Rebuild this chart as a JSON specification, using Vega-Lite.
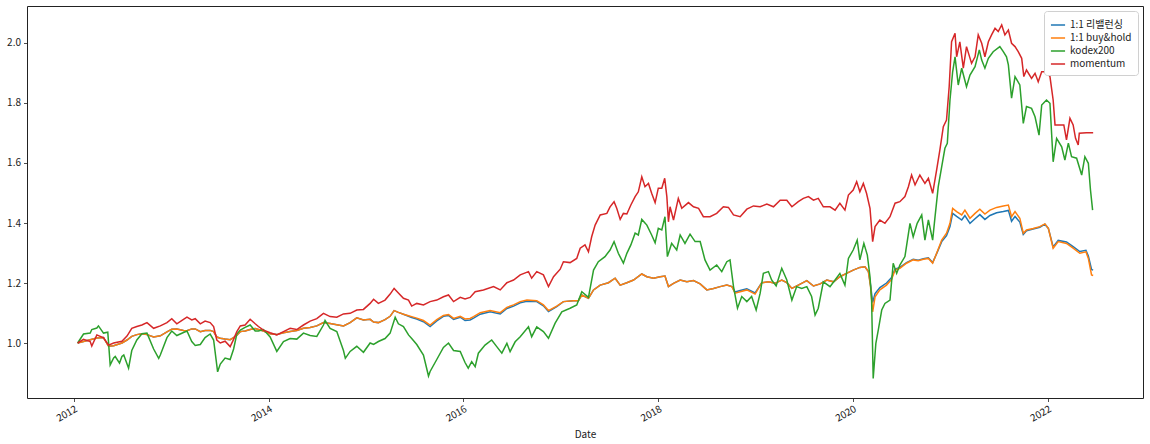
{
"$schema": "https://vega.github.io/schema/vega-lite/v6.json",
"width": 1116, "height": 392,
"autosize": "none",
"padding": {"left": 27, "top": 6, "right": 7, "bottom": 46},
"background": "white",
"config": {
  "font": "Noto Sans CJK KR",
  "view": {"stroke": "#222", "strokeWidth": 1},
  "axis": {"domain": false, "grid": false, "tickColor": "#222", "tickSize": 3.5, "tickWidth": 0.8, "labelColor": "#222", "labelFontSize": 10, "labelFont": "Noto Sans CJK KR", "titleFont": "Noto Sans CJK KR", "titleFontSize": 10, "titleFontWeight": "normal", "titleColor": "#222"}
},
"datasets": {
"r": [
{"d":"2012-01-16","v":1.000},{"d":"2012-02-07","v":1.005},{"d":"2012-03-03","v":1.011},{"d":"2012-03-28","v":1.017},{"d":"2012-04-22","v":1.018},{"d":"2012-05-11","v":0.989},{"d":"2012-05-30","v":0.991},{"d":"2012-06-30","v":1.000},{"d":"2012-07-19","v":1.010},{"d":"2012-08-06","v":1.022},{"d":"2012-08-25","v":1.028},{"d":"2012-09-13","v":1.031},{"d":"2012-10-02","v":1.028},{"d":"2012-10-27","v":1.020},{"d":"2012-11-21","v":1.024},{"d":"2012-12-16","v":1.037},{"d":"2013-01-03","v":1.046},{"d":"2013-01-22","v":1.047},{"d":"2013-02-16","v":1.042},{"d":"2013-03-01","v":1.041},{"d":"2013-03-19","v":1.047},{"d":"2013-04-01","v":1.047},{"d":"2013-04-20","v":1.038},{"d":"2013-05-08","v":1.042},{"d":"2013-05-27","v":1.042},{"d":"2013-06-09","v":1.038},{"d":"2013-06-21","v":1.020},{"d":"2013-07-04","v":1.016},{"d":"2013-07-22","v":1.013},{"d":"2013-08-10","v":1.011},{"d":"2013-08-23","v":1.018},{"d":"2013-09-04","v":1.026},{"d":"2013-09-17","v":1.038},{"d":"2013-10-05","v":1.040},{"d":"2013-10-24","v":1.045},{"d":"2013-11-12","v":1.048},{"d":"2013-11-24","v":1.045},{"d":"2013-12-13","v":1.040},{"d":"2014-01-07","v":1.031},{"d":"2014-02-01","v":1.028},{"d":"2014-02-26","v":1.034},{"d":"2014-03-23","v":1.038},{"d":"2014-04-17","v":1.042},{"d":"2014-05-12","v":1.049},{"d":"2014-06-06","v":1.052},{"d":"2014-07-01","v":1.057},{"d":"2014-07-26","v":1.068},{"d":"2014-08-20","v":1.065},{"d":"2014-09-14","v":1.061},{"d":"2014-10-09","v":1.057},{"d":"2014-11-03","v":1.068},{"d":"2014-11-28","v":1.084},{"d":"2014-12-23","v":1.077},{"d":"2015-01-17","v":1.079},{"d":"2015-01-30","v":1.070},{"d":"2015-02-17","v":1.068},{"d":"2015-03-14","v":1.078},{"d":"2015-04-02","v":1.089},{"d":"2015-04-17","v":1.108},{"d":"2015-05-03","v":1.102},{"d":"2015-05-22","v":1.096},{"d":"2015-06-10","v":1.089},{"d":"2015-06-22","v":1.085},{"d":"2015-07-11","v":1.080},{"d":"2015-08-05","v":1.071},{"d":"2015-08-30","v":1.055},{"d":"2015-09-24","v":1.074},{"d":"2015-10-19","v":1.089},{"d":"2015-11-07","v":1.092},{"d":"2015-11-26","v":1.079},{"d":"2015-12-21","v":1.086},{"d":"2016-01-08","v":1.075},{"d":"2016-01-27","v":1.077},
{"d":"2016-02-09","v":1.083},{"d":"2016-03-05","v":1.096},{"d":"2016-04-11","v":1.104},{"d":"2016-05-19","v":1.097},{"d":"2016-06-13","v":1.115},{"d":"2016-07-08","v":1.123},{"d":"2016-08-02","v":1.134},{"d":"2016-08-27","v":1.139},{"d":"2016-10-03","v":1.138},{"d":"2016-10-28","v":1.124},{"d":"2016-11-16","v":1.105},{"d":"2016-12-17","v":1.121},{"d":"2017-01-11","v":1.138},{"d":"2017-02-18","v":1.141},{"d":"2017-03-08","v":1.141},{"d":"2017-03-21","v":1.160},{"d":"2017-04-15","v":1.149},{"d":"2017-05-04","v":1.177},{"d":"2017-05-29","v":1.193},{"d":"2017-06-29","v":1.201},{"d":"2017-07-24","v":1.216},{"d":"2017-08-12","v":1.193},{"d":"2017-09-06","v":1.201},{"d":"2017-10-01","v":1.210},{"d":"2017-11-01","v":1.230},{"d":"2017-11-20","v":1.221},{"d":"2017-12-15","v":1.216},{"d":"2018-01-09","v":1.221},{"d":"2018-01-27","v":1.223},{"d":"2018-02-09","v":1.188},{"d":"2018-02-28","v":1.199},{"d":"2018-03-25","v":1.210},{"d":"2018-04-19","v":1.204},{"d":"2018-05-14","v":1.208},{"d":"2018-06-08","v":1.197},{"d":"2018-07-03","v":1.177},{"d":"2018-07-28","v":1.182},{"d":"2018-08-22","v":1.188},{"d":"2018-09-16","v":1.193},{"d":"2018-10-05","v":1.188},{"d":"2018-10-17","v":1.170},{"d":"2018-11-05","v":1.175},{"d":"2018-11-30","v":1.181},{"d":"2018-12-31","v":1.167},{"d":"2019-01-25","v":1.201},{"d":"2019-02-19","v":1.204},{"d":"2019-03-16","v":1.199},{"d":"2019-04-10","v":1.210},{"d":"2019-04-29","v":1.201},{"d":"2019-05-18","v":1.182},{"d":"2019-06-11","v":1.193},{"d":"2019-07-13","v":1.208},{"d":"2019-08-07","v":1.190},{"d":"2019-09-01","v":1.197},{"d":"2019-09-26","v":1.210},{"d":"2019-10-21","v":1.204},
{"d":"2019-11-14","v":1.221},{"d":"2019-12-09","v":1.232},{"d":"2020-01-03","v":1.243},{"d":"2020-01-28","v":1.252},{"d":"2020-02-16","v":1.254},{"d":"2020-02-29","v":1.238},{"d":"2020-03-08","v":1.195},{"d":"2020-03-16","v":1.135},{"d":"2020-03-25","v":1.165},{"d":"2020-04-12","v":1.185},{"d":"2020-05-07","v":1.200},{"d":"2020-05-26","v":1.218},{"d":"2020-06-08","v":1.246},{"d":"2020-06-26","v":1.252},{"d":"2020-07-21","v":1.268},{"d":"2020-08-15","v":1.279},{"d":"2020-09-03","v":1.276},{"d":"2020-09-22","v":1.281},{"d":"2020-10-11","v":1.284},{"d":"2020-10-27","v":1.268},{"d":"2020-11-11","v":1.298},{"d":"2020-11-30","v":1.338},{"d":"2020-12-18","v":1.358},{"d":"2020-12-31","v":1.388},{"d":"2021-01-10","v":1.432},{"d":"2021-01-25","v":1.422},{"d":"2021-02-13","v":1.410},{"d":"2021-02-25","v":1.425},{"d":"2021-03-16","v":1.399},{"d":"2021-04-04","v":1.414},{"d":"2021-04-22","v":1.428},{"d":"2021-05-11","v":1.412},{"d":"2021-05-30","v":1.425},{"d":"2021-06-24","v":1.434},{"d":"2021-07-19","v":1.438},{"d":"2021-08-07","v":1.442},{"d":"2021-08-19","v":1.406},{"d":"2021-09-01","v":1.422},{"d":"2021-09-19","v":1.403},{"d":"2021-10-02","v":1.362},{"d":"2021-10-14","v":1.374},{"d":"2021-11-08","v":1.380},{"d":"2021-12-03","v":1.386},{"d":"2021-12-22","v":1.396},{"d":"2022-01-04","v":1.382},{"d":"2022-01-22","v":1.320},{"d":"2022-02-10","v":1.342},{"d":"2022-03-13","v":1.337},{"d":"2022-04-07","v":1.321},{"d":"2022-05-02","v":1.305},{"d":"2022-05-25","v":1.309},{"d":"2022-06-03","v":1.290},{"d":"2022-06-15","v":1.245},{"d":"2022-06-21","v":1.243}
],
"b": [
{"d":"2012-01-16","v":1.000},{"d":"2012-02-07","v":1.005},{"d":"2012-03-03","v":1.011},{"d":"2012-03-28","v":1.017},{"d":"2012-04-22","v":1.018},{"d":"2012-05-11","v":0.989},{"d":"2012-05-30","v":0.991},{"d":"2012-06-30","v":1.000},{"d":"2012-07-19","v":1.010},{"d":"2012-08-06","v":1.022},{"d":"2012-08-25","v":1.028},{"d":"2012-09-13","v":1.031},{"d":"2012-10-02","v":1.028},{"d":"2012-10-27","v":1.020},{"d":"2012-11-21","v":1.024},{"d":"2012-12-16","v":1.037},{"d":"2013-01-03","v":1.046},{"d":"2013-01-22","v":1.047},{"d":"2013-02-16","v":1.042},{"d":"2013-03-01","v":1.041},{"d":"2013-03-19","v":1.047},{"d":"2013-04-01","v":1.047},{"d":"2013-04-20","v":1.038},{"d":"2013-05-08","v":1.042},{"d":"2013-05-27","v":1.042},{"d":"2013-06-09","v":1.038},{"d":"2013-06-21","v":1.020},{"d":"2013-07-04","v":1.016},{"d":"2013-07-22","v":1.013},{"d":"2013-08-10","v":1.011},{"d":"2013-08-23","v":1.018},{"d":"2013-09-04","v":1.026},{"d":"2013-09-17","v":1.038},{"d":"2013-10-05","v":1.040},{"d":"2013-10-24","v":1.045},{"d":"2013-11-12","v":1.048},{"d":"2013-11-24","v":1.045},{"d":"2013-12-13","v":1.040},{"d":"2014-01-07","v":1.031},{"d":"2014-02-01","v":1.028},{"d":"2014-02-26","v":1.034},{"d":"2014-03-23","v":1.038},{"d":"2014-04-17","v":1.042},{"d":"2014-05-12","v":1.049},{"d":"2014-06-06","v":1.052},{"d":"2014-07-01","v":1.057},{"d":"2014-07-26","v":1.068},{"d":"2014-08-20","v":1.065},{"d":"2014-09-14","v":1.061},{"d":"2014-10-09","v":1.057},{"d":"2014-11-03","v":1.068},{"d":"2014-11-28","v":1.084},{"d":"2014-12-23","v":1.077},{"d":"2015-01-17","v":1.079},{"d":"2015-01-30","v":1.070},{"d":"2015-02-17","v":1.068},{"d":"2015-03-14","v":1.078},{"d":"2015-04-02","v":1.089},{"d":"2015-04-17","v":1.108},{"d":"2015-05-03","v":1.102},{"d":"2015-05-22","v":1.096},{"d":"2015-06-10","v":1.091},{"d":"2015-06-22","v":1.088},{"d":"2015-07-11","v":1.083},{"d":"2015-08-05","v":1.075},{"d":"2015-08-30","v":1.060},{"d":"2015-09-24","v":1.078},{"d":"2015-10-19","v":1.092},{"d":"2015-11-07","v":1.095},{"d":"2015-11-26","v":1.082},{"d":"2015-12-21","v":1.089},{"d":"2016-01-08","v":1.080},{"d":"2016-01-27","v":1.082},
{"d":"2016-02-09","v":1.088},{"d":"2016-03-05","v":1.101},{"d":"2016-04-11","v":1.108},{"d":"2016-05-19","v":1.101},{"d":"2016-06-13","v":1.119},{"d":"2016-07-08","v":1.127},{"d":"2016-08-02","v":1.138},{"d":"2016-08-27","v":1.143},{"d":"2016-10-03","v":1.141},{"d":"2016-10-28","v":1.127},{"d":"2016-11-16","v":1.108},{"d":"2016-12-17","v":1.123},{"d":"2017-01-11","v":1.138},{"d":"2017-02-18","v":1.141},{"d":"2017-03-08","v":1.141},{"d":"2017-03-21","v":1.160},{"d":"2017-04-15","v":1.149},{"d":"2017-05-04","v":1.177},{"d":"2017-05-29","v":1.193},{"d":"2017-06-29","v":1.201},{"d":"2017-07-24","v":1.216},{"d":"2017-08-12","v":1.193},{"d":"2017-09-06","v":1.201},{"d":"2017-10-01","v":1.210},{"d":"2017-11-01","v":1.230},{"d":"2017-11-20","v":1.221},{"d":"2017-12-15","v":1.216},{"d":"2018-01-09","v":1.221},{"d":"2018-01-27","v":1.223},{"d":"2018-02-09","v":1.188},{"d":"2018-02-28","v":1.199},{"d":"2018-03-25","v":1.210},{"d":"2018-04-19","v":1.204},{"d":"2018-05-14","v":1.208},{"d":"2018-06-08","v":1.197},{"d":"2018-07-03","v":1.177},{"d":"2018-07-28","v":1.182},{"d":"2018-08-22","v":1.188},{"d":"2018-09-16","v":1.193},{"d":"2018-10-05","v":1.188},{"d":"2018-10-17","v":1.166},{"d":"2018-11-05","v":1.171},{"d":"2018-11-30","v":1.177},{"d":"2018-12-31","v":1.163},{"d":"2019-01-25","v":1.201},{"d":"2019-02-19","v":1.204},{"d":"2019-03-16","v":1.199},{"d":"2019-04-10","v":1.210},{"d":"2019-04-29","v":1.201},{"d":"2019-05-18","v":1.182},{"d":"2019-06-11","v":1.193},{"d":"2019-07-13","v":1.208},{"d":"2019-08-07","v":1.190},{"d":"2019-09-01","v":1.197},{"d":"2019-09-26","v":1.210},{"d":"2019-10-21","v":1.204},
{"d":"2019-11-14","v":1.221},{"d":"2019-12-09","v":1.232},{"d":"2020-01-03","v":1.243},{"d":"2020-01-28","v":1.252},{"d":"2020-02-16","v":1.254},{"d":"2020-02-29","v":1.238},{"d":"2020-03-08","v":1.188},{"d":"2020-03-16","v":1.104},{"d":"2020-03-25","v":1.154},{"d":"2020-04-12","v":1.177},{"d":"2020-05-07","v":1.193},{"d":"2020-05-26","v":1.212},{"d":"2020-06-08","v":1.243},{"d":"2020-06-26","v":1.249},{"d":"2020-07-21","v":1.266},{"d":"2020-08-15","v":1.277},{"d":"2020-09-03","v":1.274},{"d":"2020-09-22","v":1.279},{"d":"2020-10-11","v":1.282},{"d":"2020-10-27","v":1.266},{"d":"2020-11-11","v":1.299},{"d":"2020-11-30","v":1.343},{"d":"2020-12-18","v":1.366},{"d":"2020-12-31","v":1.399},{"d":"2021-01-10","v":1.449},{"d":"2021-01-25","v":1.438},{"d":"2021-02-13","v":1.427},{"d":"2021-02-25","v":1.443},{"d":"2021-03-16","v":1.416},{"d":"2021-04-04","v":1.432},{"d":"2021-04-22","v":1.446},{"d":"2021-05-11","v":1.430},{"d":"2021-05-30","v":1.443},{"d":"2021-06-24","v":1.452},{"d":"2021-07-19","v":1.457},{"d":"2021-08-07","v":1.460},{"d":"2021-08-19","v":1.421},{"d":"2021-09-01","v":1.438},{"d":"2021-09-19","v":1.416},{"d":"2021-10-02","v":1.366},{"d":"2021-10-14","v":1.377},{"d":"2021-11-08","v":1.382},{"d":"2021-12-03","v":1.388},{"d":"2021-12-22","v":1.397},{"d":"2022-01-04","v":1.382},{"d":"2022-01-22","v":1.316},{"d":"2022-02-10","v":1.338},{"d":"2022-03-13","v":1.332},{"d":"2022-04-07","v":1.316},{"d":"2022-05-02","v":1.299},{"d":"2022-05-25","v":1.304},{"d":"2022-06-03","v":1.282},{"d":"2022-06-15","v":1.227},{"d":"2022-06-21","v":1.225}
],
"k": [
{"d":"2012-01-16","v":1.000},{"d":"2012-02-07","v":1.030},{"d":"2012-03-03","v":1.033},{"d":"2012-03-09","v":1.045},{"d":"2012-03-28","v":1.050},{"d":"2012-04-03","v":1.057},{"d":"2012-04-22","v":1.033},{"d":"2012-05-08","v":1.036},{"d":"2012-05-17","v":0.927},{"d":"2012-05-30","v":0.950},{"d":"2012-06-05","v":0.955},{"d":"2012-06-21","v":0.933},{"d":"2012-06-30","v":0.955},{"d":"2012-07-07","v":0.960},{"d":"2012-07-25","v":0.916},{"d":"2012-08-06","v":0.975},{"d":"2012-08-25","v":1.010},{"d":"2012-09-13","v":1.031},{"d":"2012-10-02","v":1.033},{"d":"2012-10-27","v":0.980},{"d":"2012-11-15","v":0.949},{"d":"2012-11-21","v":0.960},{"d":"2012-12-16","v":1.018},{"d":"2013-01-03","v":1.040},{"d":"2013-01-22","v":1.025},{"d":"2013-02-16","v":1.035},{"d":"2013-03-01","v":1.040},{"d":"2013-03-19","v":1.005},{"d":"2013-04-01","v":0.992},{"d":"2013-04-20","v":0.995},{"d":"2013-05-08","v":1.018},{"d":"2013-05-27","v":1.030},{"d":"2013-06-09","v":1.010},{"d":"2013-06-24","v":0.904},{"d":"2013-07-04","v":0.930},{"d":"2013-07-22","v":0.950},{"d":"2013-08-10","v":0.945},{"d":"2013-08-23","v":0.980},{"d":"2013-09-04","v":1.030},{"d":"2013-09-17","v":1.043},{"d":"2013-10-05","v":1.052},{"d":"2013-10-24","v":1.060},{"d":"2013-11-12","v":1.040},{"d":"2013-11-24","v":1.040},{"d":"2013-12-13","v":1.045},{"d":"2014-01-07","v":1.020},{"d":"2014-02-01","v":0.972},{"d":"2014-02-26","v":1.005},{"d":"2014-03-23","v":1.015},{"d":"2014-04-17","v":1.013},{"d":"2014-05-12","v":1.033},{"d":"2014-06-06","v":1.025},{"d":"2014-07-01","v":1.022},{"d":"2014-07-26","v":1.060},{"d":"2014-08-01","v":1.075},{"d":"2014-08-20","v":1.049},{"d":"2014-09-14","v":1.038},{"d":"2014-10-09","v":0.975},{"d":"2014-10-16","v":0.949},{"d":"2014-11-03","v":0.972},{"d":"2014-11-28","v":0.989},{"d":"2014-12-23","v":0.969},{"d":"2015-01-17","v":1.000},{"d":"2015-01-30","v":0.995},{"d":"2015-02-17","v":1.005},{"d":"2015-03-14","v":1.015},{"d":"2015-04-02","v":1.033},{"d":"2015-04-21","v":1.086},{"d":"2015-05-03","v":1.064},{"d":"2015-05-22","v":1.055},{"d":"2015-06-10","v":1.027},{"d":"2015-06-22","v":1.015},{"d":"2015-07-11","v":0.995},{"d":"2015-08-05","v":0.960},{"d":"2015-08-24","v":0.890},{"d":"2015-08-30","v":0.905},{"d":"2015-09-24","v":0.945},{"d":"2015-10-19","v":0.985},{"d":"2015-11-07","v":1.000},{"d":"2015-11-26","v":0.975},{"d":"2015-12-21","v":0.972},{"d":"2016-01-08","v":0.935},{"d":"2016-01-20","v":0.916},{"d":"2016-02-02","v":0.938},{"d":"2016-02-15","v":0.921},
{"d":"2016-02-27","v":0.966},{"d":"2016-03-23","v":0.993},{"d":"2016-04-17","v":1.010},{"d":"2016-05-06","v":0.988},{"d":"2016-05-25","v":0.966},{"d":"2016-06-13","v":0.999},{"d":"2016-06-25","v":0.971},{"d":"2016-07-14","v":1.004},{"d":"2016-08-02","v":1.021},{"d":"2016-09-02","v":1.054},{"d":"2016-09-14","v":1.021},{"d":"2016-10-03","v":1.054},{"d":"2016-10-28","v":1.038},{"d":"2016-11-16","v":1.016},{"d":"2016-12-11","v":1.066},{"d":"2017-01-05","v":1.104},{"d":"2017-02-05","v":1.116},{"d":"2017-03-02","v":1.127},{"d":"2017-03-21","v":1.171},{"d":"2017-04-15","v":1.152},{"d":"2017-05-04","v":1.243},{"d":"2017-05-22","v":1.271},{"d":"2017-06-16","v":1.288},{"d":"2017-07-05","v":1.310},{"d":"2017-07-20","v":1.338},{"d":"2017-08-05","v":1.299},{"d":"2017-08-24","v":1.266},{"d":"2017-09-06","v":1.299},{"d":"2017-09-21","v":1.327},{"d":"2017-10-07","v":1.366},{"d":"2017-10-19","v":1.360},{"d":"2017-11-01","v":1.412},{"d":"2017-11-20","v":1.393},{"d":"2017-12-08","v":1.360},{"d":"2017-12-21","v":1.334},{"d":"2018-01-02","v":1.382},{"d":"2018-01-15","v":1.377},{"d":"2018-01-27","v":1.421},{"d":"2018-02-05","v":1.288},{"d":"2018-02-21","v":1.332},{"d":"2018-03-12","v":1.310},{"d":"2018-03-25","v":1.360},{"d":"2018-04-12","v":1.332},{"d":"2018-05-01","v":1.363},{"d":"2018-05-20","v":1.338},{"d":"2018-06-08","v":1.338},{"d":"2018-06-26","v":1.277},{"d":"2018-07-15","v":1.243},{"d":"2018-08-09","v":1.260},{"d":"2018-08-28","v":1.238},{"d":"2018-09-16","v":1.271},{"d":"2018-09-28","v":1.277},{"d":"2018-10-11","v":1.188},{"d":"2018-10-26","v":1.116},{"d":"2018-11-11","v":1.155},{"d":"2018-11-30","v":1.138},{"d":"2018-12-18","v":1.155},{"d":"2019-01-04","v":1.110},{"d":"2019-01-19","v":1.166},{"d":"2019-01-31","v":1.232},{"d":"2019-02-19","v":1.238},{"d":"2019-03-03","v":1.210},{"d":"2019-03-20","v":1.190},{"d":"2019-04-10","v":1.249},{"d":"2019-04-29","v":1.210},{"d":"2019-05-18","v":1.143},{"d":"2019-06-05","v":1.188},{"d":"2019-06-24","v":1.182},{"d":"2019-07-13","v":1.188},{"d":"2019-07-31","v":1.155},{"d":"2019-08-13","v":1.093},{"d":"2019-08-25","v":1.116},{"d":"2019-09-13","v":1.204},{"d":"2019-10-08","v":1.188},{"d":"2019-10-27","v":1.210},
{"d":"2019-11-14","v":1.232},{"d":"2019-12-03","v":1.193},{"d":"2019-12-16","v":1.282},{"d":"2020-01-03","v":1.310},{"d":"2020-01-18","v":1.343},{"d":"2020-01-28","v":1.277},{"d":"2020-02-12","v":1.332},{"d":"2020-02-25","v":1.293},{"d":"2020-03-06","v":1.221},{"d":"2020-03-12","v":1.143},{"d":"2020-03-18","v":0.882},{"d":"2020-03-28","v":0.999},{"d":"2020-04-06","v":1.043},{"d":"2020-04-19","v":1.110},{"d":"2020-05-01","v":1.132},{"d":"2020-05-20","v":1.143},{"d":"2020-06-01","v":1.266},{"d":"2020-06-14","v":1.232},{"d":"2020-06-26","v":1.260},{"d":"2020-07-15","v":1.288},{"d":"2020-08-03","v":1.399},{"d":"2020-08-15","v":1.354},{"d":"2020-08-30","v":1.399},{"d":"2020-09-16","v":1.427},{"d":"2020-09-28","v":1.343},{"d":"2020-10-11","v":1.410},{"d":"2020-10-27","v":1.343},{"d":"2020-11-05","v":1.421},{"d":"2020-11-17","v":1.521},{"d":"2020-11-30","v":1.588},{"d":"2020-12-12","v":1.649},{"d":"2020-12-21","v":1.666},{"d":"2020-12-31","v":1.810},{"d":"2021-01-10","v":1.904},{"d":"2021-01-19","v":1.954},{"d":"2021-01-31","v":1.860},{"d":"2021-02-13","v":1.916},{"d":"2021-03-03","v":1.854},{"d":"2021-03-16","v":1.893},{"d":"2021-04-04","v":1.921},{"d":"2021-04-20","v":1.977},{"d":"2021-04-29","v":1.943},{"d":"2021-05-11","v":1.916},{"d":"2021-05-24","v":1.949},{"d":"2021-06-11","v":1.971},{"d":"2021-07-06","v":1.988},{"d":"2021-07-19","v":1.971},{"d":"2021-07-31","v":1.954},{"d":"2021-08-07","v":1.927},{"d":"2021-08-19","v":1.816},{"d":"2021-09-01","v":1.888},{"d":"2021-09-19","v":1.860},{"d":"2021-10-02","v":1.732},{"d":"2021-10-14","v":1.788},{"d":"2021-11-02","v":1.782},{"d":"2021-11-15","v":1.754},{"d":"2021-11-30","v":1.693},{"d":"2021-12-10","v":1.793},{"d":"2021-12-28","v":1.810},{"d":"2022-01-10","v":1.799},{"d":"2022-01-22","v":1.604},{"d":"2022-02-04","v":1.682},{"d":"2022-02-23","v":1.654},{"d":"2022-03-07","v":1.610},{"d":"2022-03-20","v":1.666},{"d":"2022-04-01","v":1.621},{"d":"2022-04-20","v":1.616},{"d":"2022-05-09","v":1.560},{"d":"2022-05-21","v":1.621},{"d":"2022-06-03","v":1.599},{"d":"2022-06-11","v":1.510},{"d":"2022-06-19","v":1.443}
],
"m": [
{"d":"2012-01-16","v":1.000},{"d":"2012-02-07","v":1.012},{"d":"2012-03-03","v":1.005},{"d":"2012-03-09","v":0.990},{"d":"2012-03-28","v":1.027},{"d":"2012-04-22","v":1.017},{"d":"2012-05-11","v":0.993},{"d":"2012-05-30","v":1.000},{"d":"2012-06-30","v":1.006},{"d":"2012-07-19","v":1.023},{"d":"2012-08-06","v":1.049},{"d":"2012-08-25","v":1.055},{"d":"2012-09-13","v":1.060},{"d":"2012-10-02","v":1.068},{"d":"2012-10-27","v":1.049},{"d":"2012-11-21","v":1.057},{"d":"2012-12-16","v":1.068},{"d":"2013-01-03","v":1.081},{"d":"2013-01-22","v":1.064},{"d":"2013-02-16","v":1.079},{"d":"2013-03-01","v":1.086},{"d":"2013-03-19","v":1.077},{"d":"2013-04-01","v":1.081},{"d":"2013-04-20","v":1.064},{"d":"2013-05-08","v":1.073},{"d":"2013-05-27","v":1.068},{"d":"2013-06-09","v":1.055},{"d":"2013-06-21","v":1.010},{"d":"2013-07-04","v":1.000},{"d":"2013-07-22","v":1.006},{"d":"2013-08-10","v":0.988},{"d":"2013-08-23","v":1.012},{"d":"2013-09-04","v":1.038},{"d":"2013-09-17","v":1.057},{"d":"2013-10-05","v":1.060},{"d":"2013-10-24","v":1.079},{"d":"2013-11-12","v":1.064},{"d":"2013-11-24","v":1.055},{"d":"2013-12-13","v":1.043},{"d":"2014-01-07","v":1.034},{"d":"2014-02-01","v":1.027},{"d":"2014-02-26","v":1.038},{"d":"2014-03-23","v":1.049},{"d":"2014-04-17","v":1.045},{"d":"2014-05-12","v":1.060},{"d":"2014-06-06","v":1.073},{"d":"2014-07-01","v":1.081},{"d":"2014-07-26","v":1.099},{"d":"2014-08-20","v":1.088},{"d":"2014-09-14","v":1.086},{"d":"2014-10-09","v":1.097},{"d":"2014-11-03","v":1.099},{"d":"2014-11-28","v":1.110},{"d":"2014-12-23","v":1.112},{"d":"2015-01-17","v":1.132},{"d":"2015-01-30","v":1.146},{"d":"2015-02-17","v":1.132},{"d":"2015-03-14","v":1.143},{"d":"2015-04-02","v":1.163},{"d":"2015-04-17","v":1.182},{"d":"2015-05-03","v":1.167},{"d":"2015-05-22","v":1.149},{"d":"2015-06-10","v":1.143},{"d":"2015-06-22","v":1.123},{"d":"2015-07-11","v":1.132},{"d":"2015-08-05","v":1.127},{"d":"2015-08-30","v":1.138},{"d":"2015-09-24","v":1.143},{"d":"2015-10-19","v":1.154},{"d":"2015-11-07","v":1.160},{"d":"2015-11-26","v":1.138},{"d":"2015-12-21","v":1.152},{"d":"2016-01-08","v":1.147},{"d":"2016-01-27","v":1.152},
{"d":"2016-02-15","v":1.171},{"d":"2016-03-17","v":1.177},{"d":"2016-04-24","v":1.188},{"d":"2016-05-19","v":1.177},{"d":"2016-06-13","v":1.201},{"d":"2016-07-08","v":1.210},{"d":"2016-08-02","v":1.227},{"d":"2016-09-02","v":1.238},{"d":"2016-09-14","v":1.216},{"d":"2016-10-03","v":1.238},{"d":"2016-10-28","v":1.227},{"d":"2016-11-16","v":1.188},{"d":"2016-12-05","v":1.221},{"d":"2016-12-30","v":1.246},{"d":"2017-01-11","v":1.271},{"d":"2017-02-05","v":1.268},{"d":"2017-03-02","v":1.282},{"d":"2017-03-15","v":1.316},{"d":"2017-04-02","v":1.327},{"d":"2017-04-15","v":1.304},{"d":"2017-04-27","v":1.354},{"d":"2017-05-10","v":1.393},{"d":"2017-05-29","v":1.427},{"d":"2017-06-23","v":1.432},{"d":"2017-07-05","v":1.454},{"d":"2017-07-20","v":1.471},{"d":"2017-07-30","v":1.449},{"d":"2017-08-12","v":1.412},{"d":"2017-08-24","v":1.432},{"d":"2017-09-06","v":1.430},{"d":"2017-09-21","v":1.460},{"d":"2017-10-07","v":1.488},{"d":"2017-10-19","v":1.504},{"d":"2017-11-01","v":1.554},{"d":"2017-11-13","v":1.521},{"d":"2017-11-26","v":1.532},{"d":"2017-12-08","v":1.499},{"d":"2017-12-21","v":1.468},{"d":"2018-01-02","v":1.516},{"d":"2018-01-15","v":1.516},{"d":"2018-01-26","v":1.549},{"d":"2018-02-03","v":1.488},{"d":"2018-02-09","v":1.404},{"d":"2018-02-15","v":1.454},{"d":"2018-02-28","v":1.410},{"d":"2018-03-18","v":1.482},{"d":"2018-03-31","v":1.449},{"d":"2018-04-25","v":1.468},{"d":"2018-05-14","v":1.454},{"d":"2018-06-02","v":1.449},{"d":"2018-06-20","v":1.421},{"d":"2018-07-15","v":1.421},{"d":"2018-08-09","v":1.432},{"d":"2018-09-03","v":1.454},{"d":"2018-09-22","v":1.452},{"d":"2018-10-11","v":1.427},{"d":"2018-11-05","v":1.421},{"d":"2018-11-30","v":1.446},{"d":"2018-12-25","v":1.457},{"d":"2019-01-19","v":1.454},{"d":"2019-02-13","v":1.463},{"d":"2019-03-10","v":1.454},{"d":"2019-04-04","v":1.476},{"d":"2019-04-29","v":1.476},{"d":"2019-05-18","v":1.454},{"d":"2019-06-11","v":1.471},{"d":"2019-06-30","v":1.482},{"d":"2019-07-19","v":1.488},{"d":"2019-08-07","v":1.476},{"d":"2019-08-25","v":1.482},{"d":"2019-09-13","v":1.454},{"d":"2019-10-08","v":1.454},{"d":"2019-10-27","v":1.443},
{"d":"2019-11-14","v":1.466},{"d":"2019-12-03","v":1.443},{"d":"2019-12-16","v":1.493},{"d":"2020-01-03","v":1.510},{"d":"2020-01-16","v":1.538},{"d":"2020-01-28","v":1.504},{"d":"2020-02-10","v":1.532},{"d":"2020-02-22","v":1.499},{"d":"2020-03-06","v":1.449},{"d":"2020-03-16","v":1.338},{"d":"2020-03-25","v":1.388},{"d":"2020-04-12","v":1.410},{"d":"2020-05-01","v":1.399},{"d":"2020-05-20","v":1.421},{"d":"2020-06-08","v":1.466},{"d":"2020-06-26","v":1.471},{"d":"2020-07-15","v":1.488},{"d":"2020-07-28","v":1.521},{"d":"2020-08-09","v":1.560},{"d":"2020-08-22","v":1.527},{"d":"2020-09-09","v":1.560},{"d":"2020-09-28","v":1.532},{"d":"2020-10-11","v":1.549},{"d":"2020-10-27","v":1.499},{"d":"2020-11-11","v":1.577},{"d":"2020-11-23","v":1.643},{"d":"2020-12-06","v":1.721},{"d":"2020-12-18","v":1.743},{"d":"2020-12-28","v":1.854},{"d":"2021-01-06","v":2.004},{"d":"2021-01-19","v":2.032},{"d":"2021-01-25","v":1.954},{"d":"2021-02-06","v":2.004},{"d":"2021-02-19","v":1.916},{"d":"2021-03-03","v":1.988},{"d":"2021-03-22","v":1.932},{"d":"2021-04-04","v":1.954},{"d":"2021-04-16","v":2.027},{"d":"2021-04-29","v":1.999},{"d":"2021-05-11","v":1.954},{"d":"2021-05-24","v":2.004},{"d":"2021-06-05","v":2.027},{"d":"2021-06-18","v":2.049},{"d":"2021-06-30","v":2.038},{"d":"2021-07-13","v":2.060},{"d":"2021-07-25","v":2.027},{"d":"2021-08-07","v":2.043},{"d":"2021-08-19","v":1.999},{"d":"2021-09-01","v":1.988},{"d":"2021-09-13","v":1.971},{"d":"2021-09-26","v":1.949},{"d":"2021-10-04","v":1.888},{"d":"2021-10-14","v":1.910},{"d":"2021-11-02","v":1.882},{"d":"2021-11-15","v":1.899},{"d":"2021-11-27","v":1.871},{"d":"2021-12-10","v":1.904},{"d":"2021-12-28","v":1.904},{"d":"2022-01-10","v":1.888},{"d":"2022-01-22","v":1.810},{"d":"2022-01-29","v":1.727},{"d":"2022-03-03","v":1.727},{"d":"2022-03-13","v":1.677},{"d":"2022-03-26","v":1.749},{"d":"2022-04-07","v":1.727},{"d":"2022-04-16","v":1.682},{"d":"2022-04-26","v":1.660},{"d":"2022-04-30","v":1.699},{"d":"2022-05-27","v":1.701},{"d":"2022-06-21","v":1.701}
]
},
"encoding": {
  "x": {"field": "d", "type": "temporal", "title": "Date",
        "scale": {"type": "utc", "domain": [{"year": 2011, "month": 7, "date": 10, "utc": true}, {"year": 2022, "month": 12, "date": 25, "utc": true}]},
        "axis": {"values": [{"year": 2012, "month": 1, "date": 1, "utc": true}, {"year": 2014, "month": 1, "date": 1, "utc": true}, {"year": 2016, "month": 1, "date": 1, "utc": true}, {"year": 2018, "month": 1, "date": 1, "utc": true}, {"year": 2020, "month": 1, "date": 1, "utc": true}, {"year": 2022, "month": 1, "date": 1, "utc": true}],
                 "format": "%Y", "labelAngle": -30, "labelAlign": "right", "labelBaseline": "top", "labelPadding": 2, "titlePadding": 6, "labelOverlap": false, "labelFlush": false}},
  "y": {"field": "v", "type": "quantitative", "title": null,
        "scale": {"domain": [0.8167, 2.1233], "nice": false, "zero": false},
        "axis": {"values": [1.0, 1.2, 1.4, 1.6, 1.8, 2.0], "format": ".1f", "labelPadding": 3}}
},
"layer": [
  {"data": {"name": "r"}, "mark": {"type": "line", "strokeWidth": 1.5, "clip": true},
   "encoding": {"color": {"datum": "1:1 리밸런싱", "type": "nominal",
      "scale": {"domain": ["1:1 리밸런싱", "1:1 buy&hold", "kodex200", "momentum"], "range": ["#1f77b4", "#ff7f0e", "#2ca02c", "#d62728"]},
      "legend": {"title": null, "orient": "top-right", "offset": 5, "padding": 6, "fillColor": "white", "strokeColor": "#d0d0d0", "cornerRadius": 3, "symbolType": "stroke", "symbolSize": 200, "symbolStrokeWidth": 1.5, "labelFontSize": 10, "labelColor": "#222", "labelFont": "Noto Sans CJK KR", "rowPadding": 0}}}},
  {"data": {"name": "b"}, "mark": {"type": "line", "strokeWidth": 1.5, "clip": true},
   "encoding": {"color": {"datum": "1:1 buy&hold", "type": "nominal"}}},
  {"data": {"name": "k"}, "mark": {"type": "line", "strokeWidth": 1.5, "clip": true},
   "encoding": {"color": {"datum": "kodex200", "type": "nominal"}}},
  {"data": {"name": "m"}, "mark": {"type": "line", "strokeWidth": 1.5, "clip": true},
   "encoding": {"color": {"datum": "momentum", "type": "nominal"}}}
]
}
